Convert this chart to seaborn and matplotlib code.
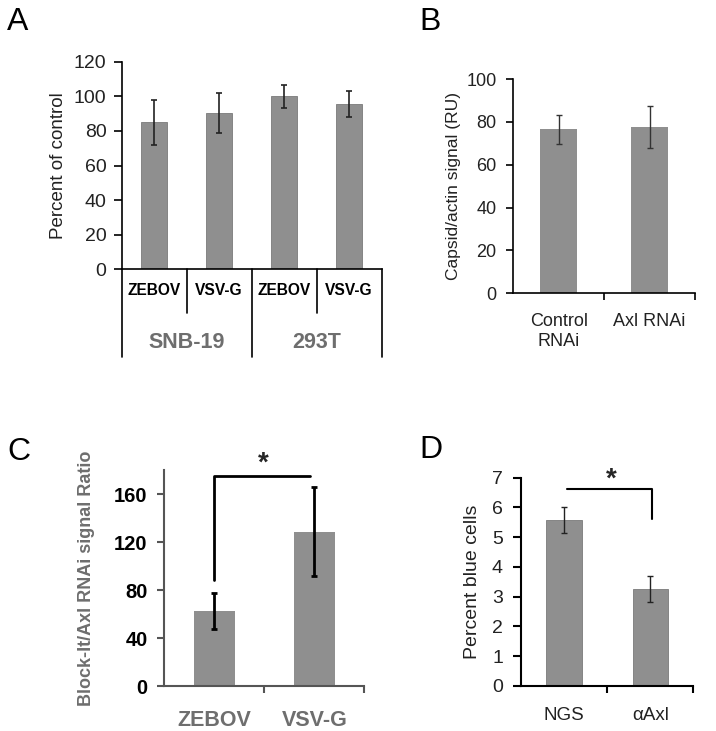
import matplotlib
matplotlib.use("Agg")
import matplotlib.pyplot as plt
import matplotlib.transforms as mtransforms
import seaborn as sns
import pandas as pd

sns.set_style("white")
plt.rcParams['font.family'] = ['Liberation Sans', 'DejaVu Sans']

# ---------------- data ----------------
a_sub = ["ZEBOV", "VSV-G", "ZEBOV", "VSV-G"]
a_groups = ["SNB-19", "293T"]
a_vals = [85, 90.5, 100, 95.5]
a_errs = [13, 11.5, 6.5, 7.5]
a_ticks = [0, 20, 40, 60, 80, 100, 120]

b_cats = ["Control\nRNAi", "Axl RNAi"]
b_vals = [76.5, 77.7]
b_errs = [6.7, 9.7]
b_ticks = [0, 20, 40, 60, 80, 100]

c_cats = ["ZEBOV", "VSV-G"]
c_vals = [62.5, 128.5]
c_errs = [15, 37]
c_ticks = [0, 40, 80, 120, 160]

d_cats = ["NGS", "αAxl"]
d_vals = [5.58, 3.26]
d_errs = [0.44, 0.44]
d_ticks = [0, 1, 2, 3, 4, 5, 6, 7]

BAR = "#8f8f8f"
EDGE = "#7a7a7a"
GRAYTXT = "#6e6e6e"

W, H = 716, 731
fig = plt.figure(figsize=(W / 100, H / 100), dpi=100)


def add_ax(x0, x1, ytop, ybot):
    return fig.add_axes([x0 / W, 1 - ybot / H, (x1 - x0) / W, (ybot - ytop) / H])


def style_axes(ax, color="black", lw=1.2, ylen=5, ypad=8):
    for s in ["top", "right"]:
        ax.spines[s].set_visible(False)
    for s in ["left", "bottom"]:
        ax.spines[s].set_color(color)
        ax.spines[s].set_linewidth(lw)
    ax.tick_params(axis="y", direction="out", length=ylen, width=lw, color=color, pad=ypad, left=True)
    ax.tick_params(axis="x", which="major", length=0)
    ax.tick_params(axis="x", which="minor", direction="out", length=5, width=lw, color=color, bottom=True)


# ---------------- Panel A ----------------
axA = add_ax(121.7, 381.7, 61.7, 269.3)
dfA = pd.DataFrame({"cat": [f"{s}{i}" for i, s in enumerate(a_sub)], "val": a_vals})
sns.barplot(data=dfA, x="cat", y="val", ax=axA, color=BAR, width=0.4,
            edgecolor=EDGE, linewidth=0.6, saturation=1, errorbar=None)
axA.errorbar(range(len(a_vals)), a_vals, yerr=a_errs, fmt="none", ecolor="#222222",
             elinewidth=1.2, capsize=2.5, capthick=1.2)
axA.set_xlim(-0.5, 3.5)
axA.set_ylim(0, 120)
axA.set_yticks(a_ticks)
axA.set_yticklabels([str(t) for t in a_ticks], fontsize=14, color="#222222")
axA.set_ylabel("Percent of control", fontsize=13.5, color="#222222", labelpad=5)
axA.set_xlabel("")
axA.set_xticks([])
style_axes(axA, ylen=6, ypad=5)
trA = mtransforms.blended_transform_factory(axA.transData, axA.transAxes)
for xb, L in zip([-0.5, 0.5, 1.5, 2.5, 3.5], [0.421, 0.212, 0.421, 0.212, 0.421]):
    axA.plot([xb, xb], [0, -L], transform=trA, color="black", lw=1.2, clip_on=False)
for i, s in enumerate(a_sub):
    axA.text(i, -0.1, s, transform=trA, ha="center", va="center",
             fontsize=11.2, fontweight="bold", color="black")
for g, name in enumerate(a_groups):
    axA.text(2 * g + 0.5, -0.355, name, transform=trA, ha="center", va="center",
             fontsize=15.5, fontweight="bold", color=GRAYTXT)

# ---------------- Panel B ----------------
axB = add_ax(513.3, 695, 79, 293.3)
dfB = pd.DataFrame({"cat": b_cats, "val": b_vals})
sns.barplot(data=dfB, x="cat", y="val", ax=axB, color=BAR, width=0.41,
            saturation=1, errorbar=None, linewidth=0)
axB.errorbar(range(len(b_vals)), b_vals, yerr=b_errs, fmt="none", ecolor="#333333",
             elinewidth=1.0, capsize=2, capthick=1.0)
axB.set_xlim(-0.5, 1.5)
axB.set_ylim(0, 100)
axB.set_yticks(b_ticks)
axB.set_yticklabels([str(t) for t in b_ticks], fontsize=13, color="#222222")
axB.set_ylabel("Capsid/actin signal (RU)", fontsize=12.5, color="#222222", labelpad=4)
axB.set_xlabel("")
axB.set_xticks(range(len(b_cats)))
axB.set_xticklabels(b_cats, fontsize=13, color="#222222", linespacing=1.25)
axB.set_xticks([0.5, 1.5], minor=True)
style_axes(axB, ylen=5, ypad=7)
axB.tick_params(axis="x", which="major", pad=14)

# ---------------- Panel C ----------------
CAX = "#555555"
axC = add_ax(164.3, 364.3, 470, 686)
dfC = pd.DataFrame({"cat": c_cats, "val": c_vals})
sns.barplot(data=dfC, x="cat", y="val", ax=axC, color=BAR, width=0.41,
            saturation=1, errorbar=None, linewidth=0)
axC.errorbar(range(len(c_vals)), c_vals, yerr=c_errs, fmt="none", ecolor="black",
             elinewidth=2.0, capsize=2.5, capthick=2.0)
axC.set_xlim(-0.5, 1.5)
axC.set_ylim(0, 180)
axC.set_yticks(c_ticks)
axC.set_yticklabels([str(t) for t in c_ticks], fontsize=14.5, fontweight="bold", color="black")
axC.set_ylabel("Block-It/Axl RNAi signal Ratio", fontsize=13, fontweight="bold",
               color=GRAYTXT, labelpad=14)
axC.set_xlabel("")
axC.set_xticks(range(len(c_cats)))
axC.set_xticklabels(c_cats, fontsize=15.5, fontweight="bold", color=GRAYTXT)
axC.set_xticks([0.5, 1.5], minor=True)
style_axes(axC, color=CAX, lw=1.5, ylen=5, ypad=7)
axC.tick_params(axis="x", which="major", pad=17)
# significance bracket
axC.plot([0, 0, 0.96], [88, 174.7, 174.7], color="black", lw=2, clip_on=False)
axC.text(0.49, 185, "*", ha="center", va="center", fontsize=20, fontweight="bold", clip_on=False)

# ---------------- Panel D ----------------
axD = add_ax(521, 693.3, 477.7, 686)
dfD = pd.DataFrame({"cat": d_cats, "val": d_vals})
sns.barplot(data=dfD, x="cat", y="val", ax=axD, color=BAR, width=0.41,
            edgecolor=EDGE, linewidth=0.6, saturation=1, errorbar=None)
axD.errorbar(range(len(d_vals)), d_vals, yerr=d_errs, fmt="none", ecolor="#222222",
             elinewidth=1.0, capsize=2, capthick=1.0)
axD.set_xlim(-0.5, 1.5)
axD.set_ylim(0, 7)
axD.set_yticks(d_ticks)
axD.set_yticklabels([str(t) for t in d_ticks], fontsize=14, color="#222222")
axD.set_ylabel("Percent blue cells", fontsize=14, color="#222222", labelpad=8)
axD.set_xlabel("")
axD.set_xticks(range(len(d_cats)))
axD.set_xticklabels(d_cats, fontsize=13.5, color="#222222")
axD.set_xticks([0.5, 1.5], minor=True)
style_axes(axD, lw=1.5, ylen=6, ypad=7)
axD.tick_params(axis="x", which="major", pad=15)
axD.plot([0.03, 1.02, 1.02], [6.62, 6.62, 5.61], color="black", lw=1.5, clip_on=False)
axD.text(0.55, 6.95, "*", ha="center", va="center", fontsize=20, fontweight="bold", clip_on=False)

# ---------------- panel letters ----------------
for lbl, (px, py) in {"A": (7, 7), "B": (419, 7), "C": (7, 437), "D": (419, 435)}.items():
    fig.text(px / W, 1 - py / H, lbl, fontsize=23, ha="left", va="top", color="black")

fig.savefig("out.png", dpi=100)
